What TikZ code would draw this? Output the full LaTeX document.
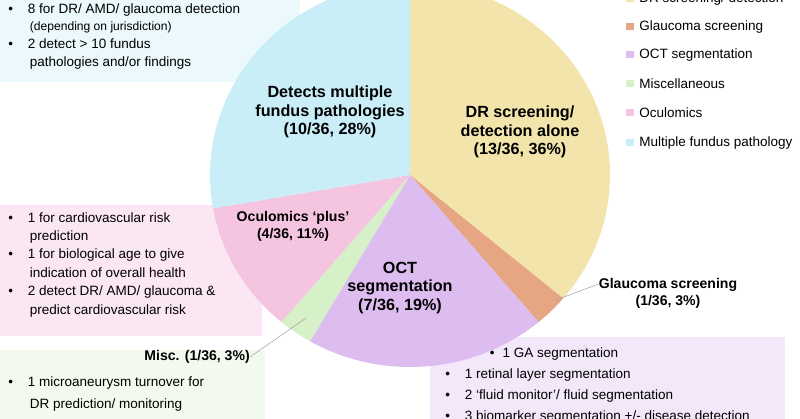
\documentclass[tikz,border=0pt]{standalone}
\usepackage{fontspec}
\setmainfont{Liberation Sans}
\usepackage{tikz}
\usetikzlibrary{positioning}
\definecolor{drY}{RGB}{242,228,170}
\definecolor{glO}{RGB}{230,165,131}
\definecolor{octL}{RGB}{221,188,240}
\definecolor{miscG}{RGB}{214,240,200}
\definecolor{oculP}{RGB}{244,196,224}
\definecolor{multB}{RGB}{201,238,248}
\tikzstyle{slicelabel} = [font=\bfseries\fontsize{11.5}{13}\selectfont, align=center, inner sep=0]
\tikzstyle{listtext} = [font=\fontsize{9.6}{12.6}\selectfont, align=left, anchor=north west, inner sep=0]
\tikzstyle{legtext} = [font=\fontsize{9.6}{11}\selectfont, anchor=west, inner sep=0]
\tikzstyle{pointer} = [gray!70, thin]

\begin{document}
\begin{tikzpicture}[x=0.025cm, y=-0.025cm]
\useasboundingbox (0,0) rectangle (800,419);
% side boxes
\fill[multB!35] (0,0) rectangle (300,82);
\fill[oculP!40] (0,205) rectangle (262,336);
\fill[miscG!35] (0,350) rectangle (265,419);
\fill[octL!35] (430,337) rectangle (785,419);
% pie (y axis points down, so angles run clockwise)
\coordinate (c) at (410,175);
\fill[drY]   (c) -- ++(-90:200 and 192) arc[start angle=-90,end angle=40,x radius=200,y radius=192] -- cycle;
\fill[glO]   (c) -- ++(40:200 and 192)  arc[start angle=40,end angle=50,x radius=200,y radius=192] -- cycle;
\fill[octL]  (c) -- ++(50:200 and 192)  arc[start angle=50,end angle=120,x radius=200,y radius=192] -- cycle;
\fill[miscG] (c) -- ++(120:200 and 192) arc[start angle=120,end angle=130,x radius=200,y radius=192] -- cycle;
\fill[oculP] (c) -- ++(130:200 and 192) arc[start angle=130,end angle=170,x radius=200,y radius=192] -- cycle;
\fill[multB] (c) -- ++(170:200 and 192) arc[start angle=170,end angle=270,x radius=200,y radius=192] -- cycle;
% slice labels
\node (multi) [slicelabel] at (330,112) {Detects multiple\\fundus pathologies\\(10/36, 28\%)};
\node (drs) [slicelabel] at (520,132) {DR screening/\\detection alone\\(13/36, 36\%)};
\node (ocul) [slicelabel, font=\bfseries\fontsize{10}{12}\selectfont] at (293,226) {Oculomics ‘plus’\\(4/36, 11\%)};
\node (oct) [slicelabel] at (400,288) {OCT\\segmentation\\(7/36, 19\%)};
\node (glauc) [slicelabel, font=\bfseries\fontsize{10}{12}\selectfont] at (668,293) {Glaucoma screening\\(1/36, 3\%)};
\node (misc) [slicelabel, font=\bfseries\fontsize{10}{12}\selectfont, anchor=east] at (250,357) {Misc. (1/36, 3\%)};
\coordinate (glaucTip) at (556,300);
\coordinate (miscTip) at (306,318);
\draw [pointer] (glaucTip) -- (glauc.west |- 0,284);
\draw [pointer] (miscTip) -- (misc.east);
% lists
\node (multList) [listtext] at (8,3) {•\hspace{1.1em}8 for DR/ AMD/ glaucoma detection\\
\hspace{1.6em}{\fontsize{8.6}{10}\selectfont (depending on jurisdiction)}\\
•\hspace{1.1em}2 detect > 10 fundus\\
\hspace{1.6em}pathologies and/or findings};
\node (oculList) [listtext, font=\fontsize{9.6}{13.1}\selectfont] at (8,212) {•\hspace{1.1em}1 for cardiovascular risk\\
\hspace{1.6em}prediction\\
•\hspace{1.1em}1 for biological age to give\\
\hspace{1.6em}indication of overall health\\
•\hspace{1.1em}2 detect DR/ AMD/ glaucoma \&\\
\hspace{1.6em}predict cardiovascular risk};
\node (miscList) [listtext, font=\fontsize{9.6}{16}\selectfont] at (8,376) {•\hspace{1.1em}1 microaneurysm turnover for\\
\hspace{1.6em}DR prediction/ monitoring};
\node (octList) [listtext, font=\fontsize{9.6}{15}\selectfont] at (445,347) {\hspace{3.3em}•\hspace{0.6em}1 GA segmentation\\
•\hspace{1.1em}1 retinal layer segmentation\\
•\hspace{1.1em}2 ‘fluid monitor’/ fluid segmentation\\
•\hspace{1.1em}3 biomarker segmentation +/- disease detection};
% legend
\foreach \y/\col/\txt [count=\i] in {-1/drY/{DR screening/ detection}, 27/glO/Glaucoma screening, 55/octL/OCT segmentation, 84/miscG/Miscellaneous, 113/oculP/Oculomics, 143/multB/Multiple fundus pathology}{
  \fill[\col] (626,\y-3.5) rectangle (634,\y+3.5);
  \node (leg\i) [legtext] at (639,\y) {\txt};
}
\end{tikzpicture}
\end{document}
